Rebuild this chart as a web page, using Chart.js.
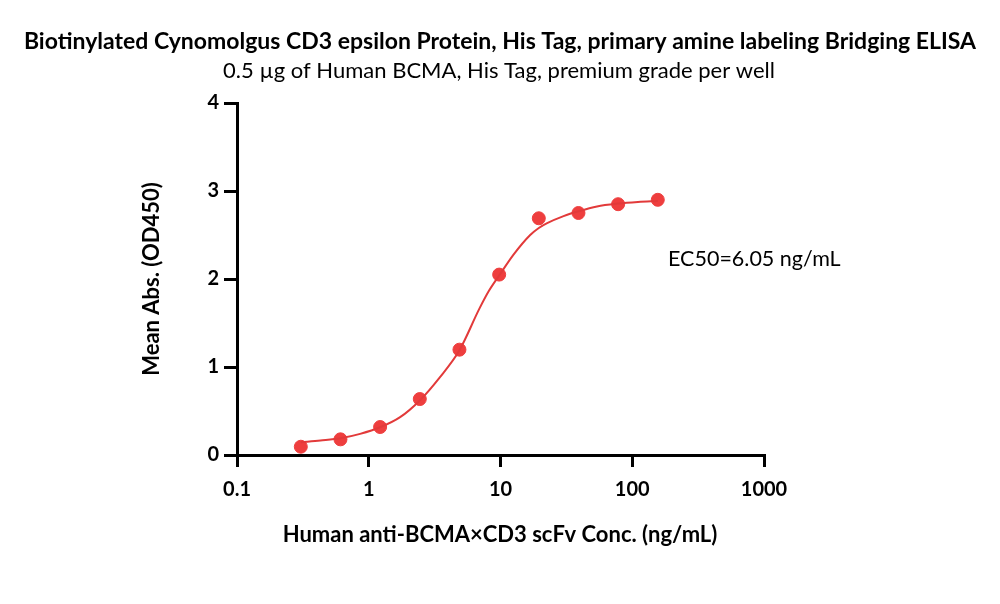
<!DOCTYPE html>
<html>
<head>
<meta charset="utf-8">
<script src="https://cdn.jsdelivr.net/npm/chart.js@4.4.1/dist/chart.umd.min.js"></script>
<style>
  html, body { margin: 0; padding: 0; background: #ffffff; }
  #wrap { width: 1000px; height: 604px; position: relative; }
</style>
</head>
<body>
<div id="wrap"><canvas id="c" width="1000" height="604"></canvas></div>
<script>
// ---- data ----
const titleText = "Biotinylated Cynomolgus CD3 epsilon Protein, His Tag, primary amine labeling Bridging ELISA";
const subtitleText = "0.5 \u00b5g of Human BCMA, His Tag, premium grade per well";
const xAxisTitle = "Human anti-BCMA\u00d7CD3 scFv Conc. (ng/mL)";
const yAxisTitle = "Mean Abs. (OD450)";
const ec50Label = "EC50=6.05 ng/mL";

const concentrations = [0.305, 0.61, 1.22, 2.44, 4.88, 9.77, 19.53, 39.06, 78.13, 156.25];
const meanAbs = [0.094, 0.178, 0.318, 0.636, 1.197, 2.05, 2.69, 2.75, 2.85, 2.90];

const fitConc = [0.305, 0.43, 0.61, 0.86, 1.22, 1.73, 2.44, 3.45, 4.88, 6.9, 8.13, 9.77, 12.6, 16.8, 19.53, 22.6, 30.1, 39.06, 54, 78.13, 110.5, 156.25];
const fitAbs  = [0.145, 0.165, 0.19, 0.24, 0.315, 0.43, 0.62, 0.88, 1.19, 1.66, 1.86, 2.04, 2.28, 2.50, 2.58, 2.635, 2.715, 2.77, 2.825, 2.857, 2.875, 2.886];

const xTicks = [0.1, 1, 10, 100, 1000];
const yTicks = [0, 1, 2, 3, 4];

// ---- styles ----
const FONT = "Lato, 'Open Sans', 'DejaVu Sans', sans-serif";
const RED_POINT = "#EE3E3E";
const RED_LINE = "#E23A3A";

const textPlugin = {
  id: 'texts',
  afterDraw(chart) {
    const ctx = chart.ctx;
    ctx.save();
    ctx.fillStyle = '#000';
    ctx.textAlign = 'center';
    ctx.textBaseline = 'middle';
    ctx.font = "bold 23px " + FONT;
    ctx.fillText(titleText, 500, 42);
    ctx.font = "22px " + FONT;
    ctx.fillText(subtitleText, 499, 71);
    ctx.font = "bold 22px " + FONT;
    ctx.fillText(xAxisTitle, 500, 535);
    ctx.save();
    ctx.translate(152, 279);
    ctx.rotate(-Math.PI / 2);
    ctx.fillText(yAxisTitle, 0, 0);
    ctx.restore();
    ctx.font = "21.5px " + FONT;
    ctx.textAlign = 'left';
    ctx.fillText(ec50Label, 668, 259);
    ctx.restore();
  }
};

new Chart(document.getElementById('c'), {
  type: 'scatter',
  data: {
    datasets: [
      {
        label: 'fit',
        data: fitConc.map((x, i) => ({ x: x, y: fitAbs[i] })),
        showLine: true,
        borderColor: RED_LINE,
        borderWidth: 2,
        pointRadius: 0,
        cubicInterpolationMode: 'monotone',
        fill: false,
        clip: false
      },
      {
        label: 'data',
        data: concentrations.map((x, i) => ({ x: x, y: meanAbs[i] })),
        showLine: false,
        backgroundColor: RED_POINT,
        borderColor: RED_POINT,
        pointRadius: 6.5,
        pointHoverRadius: 6.5,
        clip: false
      }
    ]
  },
  options: {
    responsive: false,
    animation: false,
    events: [],
    layout: { padding: { left: 0, top: 103, right: 236, bottom: 104 } },
    plugins: { legend: { display: false }, tooltip: { enabled: false }, title: { display: false } },
    scales: {
      x: {
        type: 'logarithmic',
        min: 0.1,
        max: 1000,
        afterBuildTicks(scale) { scale.ticks = xTicks.map(v => ({ value: v, major: true })); },
        afterFit(scale) { scale.height = 45; },
        border: { display: true, color: '#000', width: 3 },
        grid: { display: true, drawOnChartArea: false, drawTicks: true, tickLength: 12, color: '#000', lineWidth: 3 },
        ticks: {
          color: '#000',
          font: { family: FONT, size: 20, weight: 'bold' },
          padding: 11,
          autoSkip: false,
          maxRotation: 0,
          callback: (v) => String(v)
        }
      },
      y: {
        type: 'linear',
        min: 0,
        max: 4,
        afterBuildTicks(scale) { scale.ticks = yTicks.map(v => ({ value: v })); },
        afterFit(scale) { scale.width = 237; },
        border: { display: true, color: '#000', width: 3 },
        grid: { display: true, drawOnChartArea: false, drawTicks: true, tickLength: 13, color: '#000', lineWidth: 3 },
        ticks: {
          color: '#000',
          font: { family: FONT, size: 20, weight: 'bold' },
          padding: 5
        }
      }
    }
  },
  plugins: [textPlugin]
});
</script>
</body>
</html>
